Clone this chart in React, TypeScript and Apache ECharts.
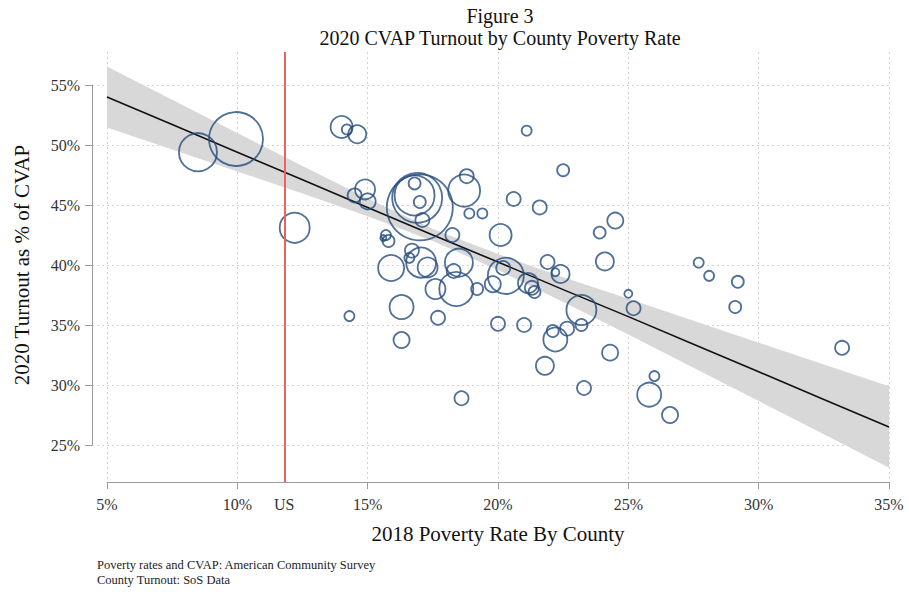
import React, { useEffect, useRef } from "react";
import * as echarts from "echarts";

// ---- Data ----
const xTicks = [5, 10, 15, 20, 25, 30, 35];
const yTicks = [25, 30, 35, 40, 45, 50, 55];
const usPovertyRate = 11.8;

// County poverty rate (%), 2020 turnout (% of CVAP), county CVAP (thousands, drives bubble area)
const povertyRate = [
  8.49, 9.95, 12.2, 14.0, 14.2, 14.6, 14.9, 14.5, 15.0, 15.7,
  15.8, 15.6, 15.9, 16.7, 16.6, 17.05, 17.3, 17.0, 16.9, 16.8,
  16.8, 17.0, 17.1, 18.7, 18.8, 18.9, 19.4, 18.25, 18.5, 18.3,
  17.6, 18.4, 19.2, 19.8, 20.3, 20.2, 20.1, 20.6, 21.6, 21.1,
  22.5, 21.9, 22.4, 22.2, 21.15, 21.3, 21.4, 23.2, 23.2, 23.9,
  24.5, 24.1, 25.0, 25.2, 20.0, 21.0, 22.1, 22.65, 22.2, 21.8,
  23.3, 24.3, 18.6, 16.3, 16.3, 14.3, 17.7, 26.0, 25.8, 26.6,
  27.7, 28.1, 29.2, 29.1, 33.2,
];
const turnout = [
  49.4, 50.5, 43.1, 51.5, 51.3, 50.9, 46.3, 45.8, 45.3, 42.5,
  42.0, 42.25, 39.75, 41.2, 40.6, 40.2, 39.8, 44.8, 45.6, 45.8,
  46.8, 45.25, 43.75, 46.2, 47.4, 44.3, 44.3, 42.5, 40.2, 39.5,
  38.0, 38.0, 38.0, 38.4, 39.1, 39.75, 42.5, 45.5, 44.8, 51.2,
  47.9, 40.25, 39.25, 39.4, 38.5, 38.1, 37.75, 36.25, 35.0, 42.7,
  43.7, 40.3, 37.6, 36.4, 35.1, 35.0, 34.5, 34.7, 33.8, 31.6,
  29.75, 32.7, 28.9, 36.5, 33.75, 35.75, 35.6, 30.75, 29.2, 27.5,
  40.2, 39.1, 38.6, 36.5, 33.1,
];
const cvapThousands = [
  361, 729, 225, 121, 25, 81, 100, 49, 64, 25,
  36, 9, 169, 49, 25, 225, 100, 1089, 625, 400,
  36, 36, 49, 256, 49, 25, 25, 49, 196, 49,
  100, 289, 36, 64, 324, 49, 121, 49, 49, 25,
  36, 49, 81, 16, 100, 49, 36, 225, 36, 36,
  64, 81, 16, 49, 49, 49, 36, 49, 144, 81,
  49, 64, 49, 144, 64, 25, 49, 25, 144, 64,
  25, 25, 36, 36, 49,
];

// Linear fit and its confidence band
const fitX = [5, 7.5, 10, 12.5, 15, 17.5, 20, 22.5, 25, 27.5, 30, 32.5, 35];
const fitY = [54.0, 51.7, 49.4, 47.1, 44.8, 42.5, 40.25, 37.95, 35.7, 33.4, 31.1, 28.8, 26.5];
const ciUpper = [56.54, 53.77, 51.0, 48.25, 45.54, 43.0, 40.91, 38.99, 37.19, 35.36, 33.53, 31.71, 29.89];
const ciLower = [51.46, 49.63, 47.8, 45.95, 44.06, 42.0, 39.59, 36.91, 34.21, 31.44, 28.67, 25.89, 23.11];

const serif = '"Liberation Serif", "Times New Roman", Times, serif';

export default function App() {
  const ref = useRef<HTMLDivElement>(null);

  useEffect(() => {
    if (!ref.current) return;
    const chart = echarts.init(ref.current, null, { renderer: "svg" });

    const points = povertyRate.map((x, i) => [x, turnout[i], cvapThousands[i]]);
    const fitData = fitX.map((x, i) => [x, fitY[i]]);
    const bandData = fitX.map((x, i) => [x, ciLower[i], ciUpper[i]]);

    const axisGray = "#9c9c9c";
    const gridGray = "#d2d2d2";

    chart.setOption({
      animation: false,
      textStyle: { fontFamily: serif },
      grid: [
        { left: 107, right: 20, top: 52, bottom: 112 },
        { left: 92, right: 20, top: 85, bottom: 149 },
      ],
      xAxis: [
        {
          gridIndex: 0,
          type: "value",
          min: 5,
          max: 35,
          interval: 5,
          axisLine: { show: true, onZero: false, lineStyle: { color: axisGray, width: 1 } },
          axisTick: { show: true, length: 7, lineStyle: { color: axisGray }, customValues: xTicks },
          axisLabel: {
            customValues: [...xTicks, usPovertyRate],
            formatter: (v: number) => (Math.abs(v - usPovertyRate) < 1e-6 ? "US" : v + "%"),
            fontSize: 16,
            color: "#333",
            margin: 14,
            fontFamily: serif,
          },
          splitLine: { show: true, lineStyle: { color: gridGray, type: [2, 3], width: 1 } },
          name: "2018 Poverty Rate By County",
          nameLocation: "middle",
          nameGap: 41,
          nameTextStyle: { fontSize: 21, color: "#111", fontFamily: serif },
        },
        { gridIndex: 1, type: "value", min: 0, max: 1, show: false },
      ],
      yAxis: [
        { gridIndex: 0, type: "value", min: 21.92, max: 57.75, show: false },
        {
          gridIndex: 1,
          type: "value",
          min: yTicks[0],
          max: yTicks[yTicks.length - 1],
          interval: 5,
          axisLine: { show: true, onZero: false, lineStyle: { color: axisGray, width: 1 } },
          axisTick: { show: true, length: 7, lineStyle: { color: axisGray } },
          axisLabel: {
            formatter: (v: number) => v + "%",
            fontSize: 16,
            color: "#333",
            margin: 12,
            fontFamily: serif,
          },
          splitLine: { show: true, lineStyle: { color: gridGray, type: [2, 3], width: 1 } },
          name: "2020 Turnout as % of CVAP",
          nameLocation: "middle",
          nameGap: 60,
          nameTextStyle: { fontSize: 21, color: "#111", fontFamily: serif },
        },
      ],
      graphic: [
        {
          type: "text",
          x: 500,
          y: 16,
          style: {
            text: "Figure 3",
            align: "center",
            verticalAlign: "middle",
            fontSize: 20,
            fontFamily: serif,
            fill: "#111",
          },
        },
        {
          type: "text",
          x: 500,
          y: 38,
          style: {
            text: "2020 CVAP Turnout by County Poverty Rate",
            align: "center",
            verticalAlign: "middle",
            fontSize: 20,
            fontFamily: serif,
            fill: "#111",
          },
        },
        {
          type: "text",
          x: 97,
          y: 565,
          style: {
            text: "Poverty rates and CVAP: American Community Survey",
            align: "left",
            verticalAlign: "middle",
            fontSize: 12.5,
            fontFamily: serif,
            fill: "#222",
          },
        },
        {
          type: "text",
          x: 97,
          y: 580,
          style: {
            text: "County Turnout: SoS Data",
            align: "left",
            verticalAlign: "middle",
            fontSize: 12.5,
            fontFamily: serif,
            fill: "#222",
          },
        },
      ],
      series: [
        {
          type: "custom",
          name: "95% CI",
          xAxisIndex: 0,
          yAxisIndex: 0,
          silent: true,
          z: 1,
          data: [[fitX[0], fitY[0]]],
          renderItem: (_params: any, api: any) => {
            const top = bandData.map((d) => api.coord([d[0], d[2]]));
            const bottom = bandData
              .slice()
              .reverse()
              .map((d) => api.coord([d[0], d[1]]));
            return {
              type: "polygon",
              shape: { points: top.concat(bottom) },
              style: { fill: "#d8d8d8" },
            };
          },
        },
        {
          type: "line",
          name: "Fit",
          xAxisIndex: 0,
          yAxisIndex: 0,
          data: fitData,
          showSymbol: false,
          symbol: "none",
          silent: true,
          clip: false,
          z: 2,
          lineStyle: { color: "#111", width: 1.6 },
          markLine: {
            silent: true,
            symbol: "none",
            label: { show: false },
            lineStyle: { color: "#f2605e", width: 2, type: "solid" },
            data: [{ xAxis: usPovertyRate }],
          },
        },
        {
          type: "scatter",
          name: "Counties",
          xAxisIndex: 0,
          yAxisIndex: 0,
          data: points,
          z: 3,
          symbol: "circle",
          symbolSize: (d: number[]) => 2 * Math.sqrt(d[2]),
          itemStyle: {
            color: "rgba(0,0,0,0)",
            borderColor: "#244c7d",
            borderWidth: 1.8,
          },
        },
      ],
    });

    return () => chart.dispose();
  }, []);

  return (
    <div
      ref={ref}
      style={{ position: "fixed", left: 0, top: 0, width: 909, height: 594, background: "#fff" }}
    />
  );
}
